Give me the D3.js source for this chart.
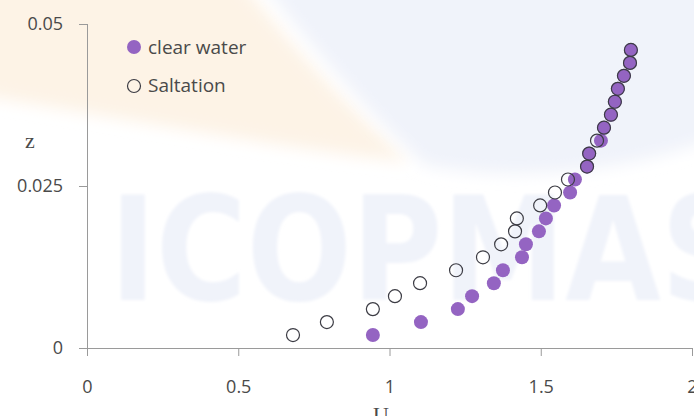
<!DOCTYPE html>
<html>
<head>
<meta charset="utf-8">
<script src="https://cdn.jsdelivr.net/npm/d3@7"></script>
<style>
  html, body { margin: 0; padding: 0; background: #ffffff; }
  svg { display: block; }
</style>
</head>
<body>
<svg id="chart" width="694" height="416"></svg>
<script>
// Depth levels z and the velocity U measured at each level
const zLevels = [0.002, 0.004, 0.006, 0.008, 0.010, 0.012, 0.014, 0.016, 0.018, 0.020,
                 0.022, 0.024, 0.026, 0.028, 0.030, 0.032, 0.034, 0.036, 0.038, 0.040,
                 0.042, 0.044, 0.046];
const clearWaterU = [0.945, 1.104, 1.226, 1.273, 1.345, 1.375, 1.438, 1.451, 1.494, 1.517,
                     1.544, 1.597, 1.613, 1.653, 1.660, 1.699, 1.709, 1.732, 1.745, 1.755,
                     1.775, 1.795, 1.798];
const saltationU = [0.681, 0.793, 0.945, 1.018, 1.101, 1.220, 1.309, 1.369, 1.415, 1.421,
                    1.498, 1.547, 1.590, 1.653, 1.660, 1.686, 1.709, 1.732, 1.745, 1.755,
                    1.775, 1.795, 1.798];
const xTicks = [0, 0.5, 1, 1.5, 2];
const yTicks = [0, 0.025, 0.05];
const seriesNames = ["clear water", "Saltation"];

const svg = d3.select("#chart");

// soft blur filters for the background logo
const defs = svg.append("defs");
defs.append("filter").attr("id", "softWide")
  .attr("x", "-20%").attr("y", "-20%").attr("width", "140%").attr("height", "140%")
  .append("feGaussianBlur").attr("stdDeviation", 8);
defs.append("filter").attr("id", "softNarrow")
  .append("feGaussianBlur").attr("stdDeviation", 1.5);

// faint background logo
const bg = svg.append("g");
bg.append("path")
  .attr("d", "M-20,-20 L240,-20 C290,45 350,110 410,162 C300,150 160,125 -20,95 Z")
  .attr("fill", "#fdf3e6")
  .attr("filter", "url(#softWide)");
bg.append("path")
  .attr("d", "M260,-20 L720,-20 L720,135 C620,178 500,180 425,165 C370,115 310,45 260,-20 Z")
  .attr("fill", "#f0f3fa")
  .attr("filter", "url(#softWide)");
bg.append("text")
  .attr("x", 110).attr("y", 300)
  .attr("font-family", "DejaVu Sans")
  .attr("font-weight", "bold")
  .attr("font-size", 144)
  .attr("textLength", 640)
  .attr("lengthAdjust", "spacingAndGlyphs")
  .attr("fill", "#f0f3fa")
  .attr("filter", "url(#softNarrow)")
  .text("ICOPMAS");

const x = d3.scaleLinear().domain([0, 2]).range([87, 692]);
const y = d3.scaleLinear().domain([0, 0.05]).range([348, 24]);

const axisColor = "#9a9a9a";
const labelColor = "#4a4a4a";

// x axis
const gx = svg.append("g")
  .attr("transform", `translate(0,${y(0)})`)
  .call(d3.axisBottom(x).tickValues(xTicks).tickSize(8).tickPadding(24)
        .tickFormat(d => String(d)));
gx.select(".domain").attr("d", `M${x(0) - 8},0.5H${x(2)}`);

// y axis
const gy = svg.append("g")
  .attr("transform", `translate(${x(0)},0)`)
  .call(d3.axisLeft(y).tickValues(yTicks).tickSize(8).tickPadding(16)
        .tickFormat(d => String(d)));
gy.select(".domain").attr("d", `M0.5,${y(0.05)}V${y(0)}`);

svg.selectAll(".domain").attr("stroke", axisColor).attr("stroke-width", 1);
svg.selectAll(".tick line").attr("stroke", axisColor);
svg.selectAll(".tick text")
  .attr("font-family", "Open Sans")
  .attr("font-size", 18)
  .attr("fill", labelColor);

// axis titles
svg.append("text")
  .attr("x", 381).attr("y", 422)
  .attr("text-anchor", "middle")
  .attr("font-family", "Liberation Serif")
  .attr("font-size", 22)
  .attr("fill", labelColor)
  .text("U");
svg.append("text")
  .attr("x", 30).attr("y", 148)
  .attr("text-anchor", "middle")
  .attr("font-family", "Liberation Serif")
  .attr("font-size", 22)
  .attr("fill", labelColor)
  .text("z");

const purple = "#9464c2";

// clear water series
svg.append("g").selectAll("circle")
  .data(zLevels.map((z, i) => ({u: clearWaterU[i], z})))
  .join("circle")
  .attr("cx", d => x(d.u))
  .attr("cy", d => y(d.z))
  .attr("r", 7)
  .attr("fill", purple);

// saltation series
svg.append("g").selectAll("circle")
  .data(zLevels.map((z, i) => ({u: saltationU[i], z})))
  .join("circle")
  .attr("cx", d => x(d.u))
  .attr("cy", d => y(d.z))
  .attr("r", 6.5)
  .attr("fill", "none")
  .attr("stroke", "#3c3c44")
  .attr("stroke-width", 1.2);

// legend
const legend = svg.append("g");
legend.append("circle").attr("cx", 134).attr("cy", 47).attr("r", 7).attr("fill", purple);
legend.append("circle").attr("cx", 134).attr("cy", 86).attr("r", 6.5)
  .attr("fill", "none").attr("stroke", "#3c3c44").attr("stroke-width", 1.2);
legend.selectAll("text")
  .data(seriesNames)
  .join("text")
  .attr("x", 148)
  .attr("y", (d, i) => 54 + i * 38)
  .attr("font-family", "Open Sans")
  .attr("font-size", 19)
  .attr("fill", labelColor)
  .text(d => d);
</script>
</body>
</html>
